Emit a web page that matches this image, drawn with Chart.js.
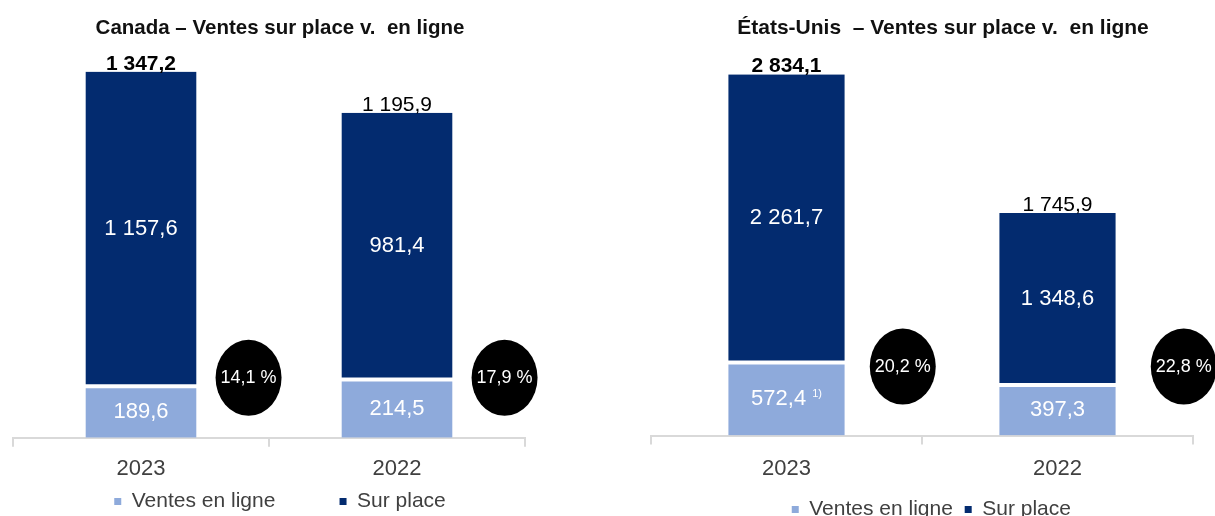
<!DOCTYPE html>
<html>
<head>
<meta charset="utf-8">
<script src="https://cdn.jsdelivr.net/npm/chart.js@4/dist/chart.umd.min.js"></script>
<style>
  html, body { margin: 0; padding: 0; background: #fff; overflow: hidden; width: 1215px; height: 516px; }
  canvas { position: absolute; top: 0; }
  #caChart { left: 0; }
  #usChart { left: 640px; }
</style>
</head>
<body>
<canvas id="caChart" width="560" height="522"></canvas>
<canvas id="usChart" width="606" height="530"></canvas>
<script>
// Chiffres (en millions)
const years = ['2023', '2022'];
const seriesNames = ['Ventes en ligne', 'Sur place'];

const caOnline = [189.6, 214.5];
const caStore = [1157.6, 981.4];
const caTotal = [1347.2, 1195.9];
const caShare = [14.1, 17.9];
const caNotes = ['', ''];

const usOnline = [572.4, 397.3];
const usStore = [2261.7, 1348.6];
const usTotal = [2834.1, 1745.9];
const usShare = [20.2, 22.8];
const usNotes = ['1)', ''];

const FONT = '"Liberation Sans", Arial, sans-serif';
const DARK = '#032b6f';
const LIGHT = '#8eaadb';

// 1157.6 -> "1 157,6"
function fmt(v) {
    const parts = v.toFixed(1).split('.');
    return parts[0].replace(/\B(?=(\d{3})+(?!\d))/g, ' ') + ',' + parts[1];
}

function fmtPct(v) {
    return v.toFixed(1).replace('.', ',') + ' %';
}

// Valeurs dans les barres, totaux au-dessus, bulles de pourcentage
const barLabels = {
    id: 'barLabels',
    afterDatasetsDraw(chart, args, opts) {
        const ctx = chart.ctx;
        const onlineMeta = chart.getDatasetMeta(0);
        const storeMeta = chart.getDatasetMeta(1);
        ctx.save();
        ctx.textAlign = 'center';
        ctx.textBaseline = 'middle';

        [onlineMeta, storeMeta].forEach((meta, di) => {
            meta.data.forEach((bar, i) => {
                const text = fmt(chart.data.datasets[di].data[i]);
                const note = di === 0 ? opts.notes[i] : '';
                const y = (bar.y + bar.base) / 2;
                ctx.fillStyle = '#ffffff';
                ctx.font = '22px ' + FONT;
                if (note) {
                    const w1 = ctx.measureText(text).width;
                    ctx.font = '11px ' + FONT;
                    const w2 = ctx.measureText(note).width + 6;
                    const start = bar.x - (w1 + w2) / 2;
                    ctx.textAlign = 'left';
                    ctx.fillText(note, start + w1 + 6, y - 5);
                    ctx.font = '22px ' + FONT;
                    ctx.fillText(text, start, y);
                    ctx.textAlign = 'center';
                } else {
                    ctx.fillText(text, bar.x, y);
                }
            });
        });

        ctx.textBaseline = 'alphabetic';
        ctx.fillStyle = '#000000';
        storeMeta.data.forEach((bar, i) => {
            ctx.font = (i === 0 ? 'bold ' : '') + '21px ' + FONT;
            ctx.fillText(fmt(opts.totals[i]), bar.x, bar.y - 2);
        });

        ctx.textBaseline = 'middle';
        onlineMeta.data.forEach((bar, i) => {
            const cx = bar.x + bar.width / 2 + opts.bubbleDx[i];
            const cy = chart.chartArea.bottom - opts.bubbleDy;
            ctx.beginPath();
            ctx.ellipse(cx, cy, 33, 38, 0, 0, Math.PI * 2);
            ctx.fillStyle = '#000000';
            ctx.fill();
            ctx.fillStyle = '#ffffff';
            ctx.font = '18px ' + FONT;
            ctx.fillText(fmtPct(opts.shares[i]), cx, cy);
        });
        ctx.restore();
    }
};

function makeChart(id, cfg) {
    const legendLabels = Chart.defaults.plugins.legend.labels.generateLabels;
    return new Chart(document.getElementById(id), {
        type: 'bar',
        data: {
            labels: years,
            datasets: [{
                label: seriesNames[0],
                data: cfg.online,
                backgroundColor: LIGHT,
                borderColor: '#ffffff',
                borderWidth: { top: 2, right: 0, bottom: 0, left: 0 },
                borderSkipped: false
            }, {
                label: seriesNames[1],
                data: cfg.store,
                backgroundColor: DARK,
                borderColor: '#ffffff',
                borderWidth: { top: 0, right: 0, bottom: 2, left: 0 },
                borderSkipped: false
            }]
        },
        options: {
            responsive: false,
            animation: false,
            events: [],
            datasets: {
                bar: { categoryPercentage: 1, barPercentage: cfg.barPct }
            },
            layout: { padding: 0 },
            plugins: {
                title: {
                    display: true,
                    text: cfg.title,
                    color: '#111111',
                    font: { size: cfg.titleSize, weight: 'bold', family: FONT },
                    padding: { top: 16, bottom: cfg.titleGap }
                },
                legend: {
                    position: 'bottom',
                    labels: {
                        usePointStyle: true,
                        pointStyle: 'rect',
                        boxWidth: 7,
                        boxHeight: 7,
                        color: '#404040',
                        font: { size: 21, family: FONT },
                        padding: cfg.legendPad,
                        generateLabels: function(chart) {
                            const items = legendLabels(chart);
                            items.forEach((item, i) => {
                                item.lineWidth = 0;
                                item.strokeStyle = item.fillStyle;
                                const n = i < items.length - 1 ? cfg.legendSpaces : cfg.legendTail;
                                item.text = item.text + ' '.repeat(n);
                            });
                            return items;
                        }
                    }
                },
                tooltip: { enabled: false },
                barLabels: {
                    totals: cfg.totals,
                    shares: cfg.shares,
                    notes: cfg.notes,
                    bubbleDx: cfg.bubbleDx,
                    bubbleDy: cfg.bubbleDy
                }
            },
            scales: {
                x: {
                    stacked: true,
                    grid: {
                        display: true,
                        drawOnChartArea: false,
                        drawTicks: true,
                        tickLength: 9,
                        color: '#d9d9d9',
                        lineWidth: 2,
                        offset: true
                    },
                    border: { display: true, color: '#d9d9d9', width: 2 },
                    ticks: {
                        color: '#404040',
                        font: { size: 22, family: FONT, lineHeight: cfg.tickLine },
                        padding: cfg.tickPad
                    }
                },
                y: {
                    stacked: true,
                    min: 0,
                    max: Math.max(...cfg.totals),
                    grid: { display: false },
                    border: { display: false },
                    ticks: { display: false },
                    afterFit: function(scale) { scale.width = cfg.leftGap; }
                },
                pad: {
                    type: 'linear',
                    position: 'right',
                    grid: { display: false },
                    border: { display: false },
                    ticks: { display: false },
                    afterFit: function(scale) { scale.width = cfg.rightGap; }
                }
            }
        },
        plugins: [barLabels]
    });
}

makeChart('caChart', {
    title: 'Canada \u2013 Ventes sur place v.  en ligne',
    online: caOnline, store: caStore, totals: caTotal, shares: caShare, notes: caNotes,
    barPct: 0.434, leftGap: 13, rightGap: 35, titleSize: 20.5, titleGap: 31,
    tickPad: 10, tickLine: 1.1, legendPad: 0, legendSpaces: 11, legendTail: 0,
    bubbleDx: [52, 52], bubbleDy: 60
});

makeChart('usChart', {
    title: '\u00c9tats-Unis  \u2013 Ventes sur place v.  en ligne',
    online: usOnline, store: usStore, totals: usTotal, shares: usShare, notes: usNotes,
    barPct: 0.43, leftGap: 11, rightGap: 53, titleSize: 21, titleGap: 33,
    tickPad: 11, tickLine: 1.2, legendPad: 6, legendSpaces: 1, legendTail: 4,
    bubbleDx: [58, 68], bubbleDy: 69
});
</script>
</body>
</html>
